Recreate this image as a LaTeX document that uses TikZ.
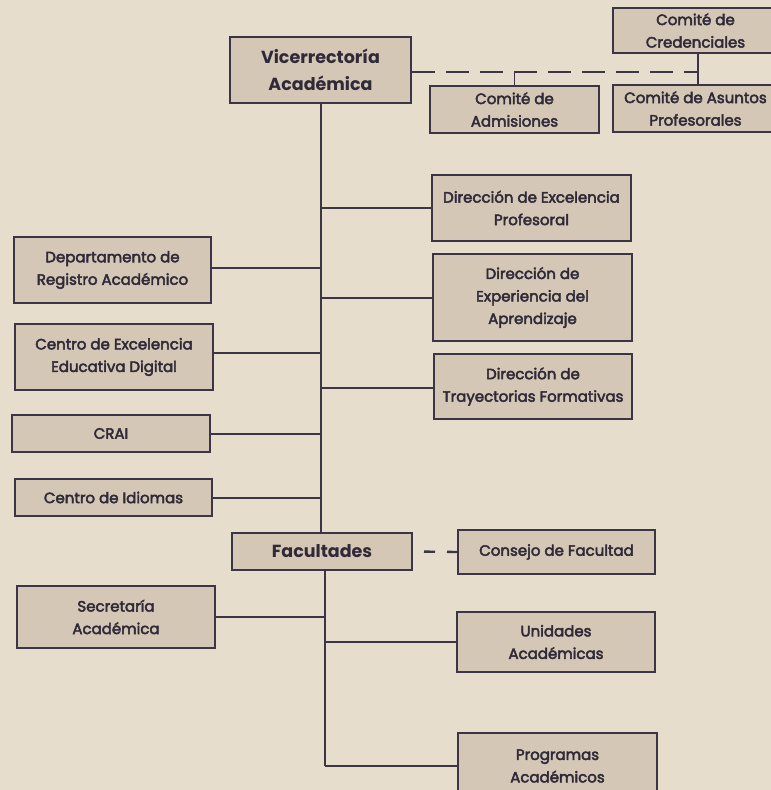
\documentclass[tikz,border=0pt]{standalone}
\usepackage{fontspec}
\setmainfont{Poppins}
\newfontfamily\bodyfont{Poppins}[FakeBold=3]
\usetikzlibrary{calc}
\definecolor{bg}{HTML}{E6DDCC}
\definecolor{boxf}{HTML}{D4C7B6}
\definecolor{linec}{HTML}{3B3545}
\definecolor{textc}{HTML}{302A38}
\begin{document}
\begin{tikzpicture}[x=1pt,y=-1pt,
  box/.style={draw=linec, line width=2pt, fill=boxf, text=textc, align=center, inner sep=0pt,
    font=\bodyfont\fontsize{15}{22.5}\selectfont},
  titlebox/.style={box, font=\fontsize{17.5}{27}\selectfont\bfseries},
  conn/.style={draw=linec, line width=2pt},
  dashc/.style={draw=linec, line width=2.4pt, dash pattern=on 23pt off 11pt},
  dashs/.style={draw=linec, line width=2.4pt, dash pattern=on 11pt off 12pt, dash phase=12pt}]
\useasboundingbox (0,0) rectangle (771,790);
\clip (0,0) rectangle (771,790);
\fill[bg] (0,0) rectangle (771,790);

% top row
\node[titlebox, minimum width=181, minimum height=66] (vice) at (320.5,70) {Vicerrectoría\\Académica};
\node[box, minimum width=165, minimum height=45] (cred) at (695.5,30.5) {Comité de\\Credenciales};
\node[box, minimum width=169, minimum height=47] (admis) at (514.5,109.5) {Comité de\\Admisiones};
\node[box, minimum width=165, minimum height=47] (asuntos) at (695.5,108.5) {Comité de Asuntos\\Profesorales};

% right column
\node[box, minimum width=199, minimum height=66] (exprof) at (531.5,208) {Dirección de Excelencia\\Profesoral};
\node[box, minimum width=199, minimum height=87] (expapr) at (532.5,297.5) {Dirección de\\Experiencia del\\Aprendizaje};
\node[box, minimum width=198, minimum height=65] (tray) at (533,386.5) {Dirección de\\Trayectorias Formativas};

% left column
\node[box, minimum width=197, minimum height=66] (depto) at (112.5,270) {Departamento de\\Registro Académico};
\node[box, minimum width=198, minimum height=66] (cedd) at (114,357) {Centro de Excelencia\\Educativa Digital};
\node[box, minimum width=198, minimum height=37] (crai) at (111,433.5) {CRAI};
\node[box, minimum width=197, minimum height=37] (idiomas) at (113.5,497.5) {Centro de Idiomas};

% faculties
\node[titlebox, minimum width=180, minimum height=37] (facu) at (322,551.5) {Facultades};
\node[box, minimum width=197, minimum height=44] (consejo) at (556.5,552) {Consejo de Facultad};
\node[box, minimum width=198, minimum height=62] (secre) at (116,617) {Secretaría\\Académica};
\node[box, minimum width=198, minimum height=60] (unidades) at (556,642) {Unidades\\Académicas};
\node[box, minimum width=199, minimum height=66] (programas) at (557.5,766) {Programas\\Académicos};

% coordinates
\coordinate (jn) at (698,72);
\coordinate (t2) at ([xshift=3pt]facu.south);

% dashed committees
\draw[dashc] ([yshift=-2pt]vice.east) -- (jn);
\draw[conn, line width=1.6pt] (cred.south -| jn) -- (asuntos.north -| jn);
\draw[conn, line width=1.6pt] (admis.north) -- (admis.north |- jn);

% main trunk
\draw[conn] (vice.south) -- (vice.south |- facu.north);
\draw[conn] (exprof.west) -- (exprof.west -| vice.south);
\draw[conn] (expapr.west) -- (expapr.west -| vice.south);
\draw[conn] ([yshift=-1.5pt]tray.west) -- ([yshift=-1.5pt]tray.west -| vice.south);
\draw[conn] ([yshift=2pt]depto.east) -- ([yshift=2pt]depto.east -| vice.south);
\draw[conn] ([yshift=4pt]cedd.east) -- ([yshift=4pt]cedd.east -| vice.south);
\draw[conn] (crai.east) -- (crai.east -| vice.south);
\draw[conn] (idiomas.east) -- (idiomas.east -| vice.south);

% faculties trunk
\draw[dashs] (facu.east) -- (consejo.west);
\draw[conn] (t2) -- (t2 |- programas.west);
\draw[conn] (secre.east) -- (secre.east -| t2);
\draw[conn] (unidades.west) -- (unidades.west -| t2);
\draw[conn] (programas.west) -- (programas.west -| t2);
\end{tikzpicture}
\end{document}
